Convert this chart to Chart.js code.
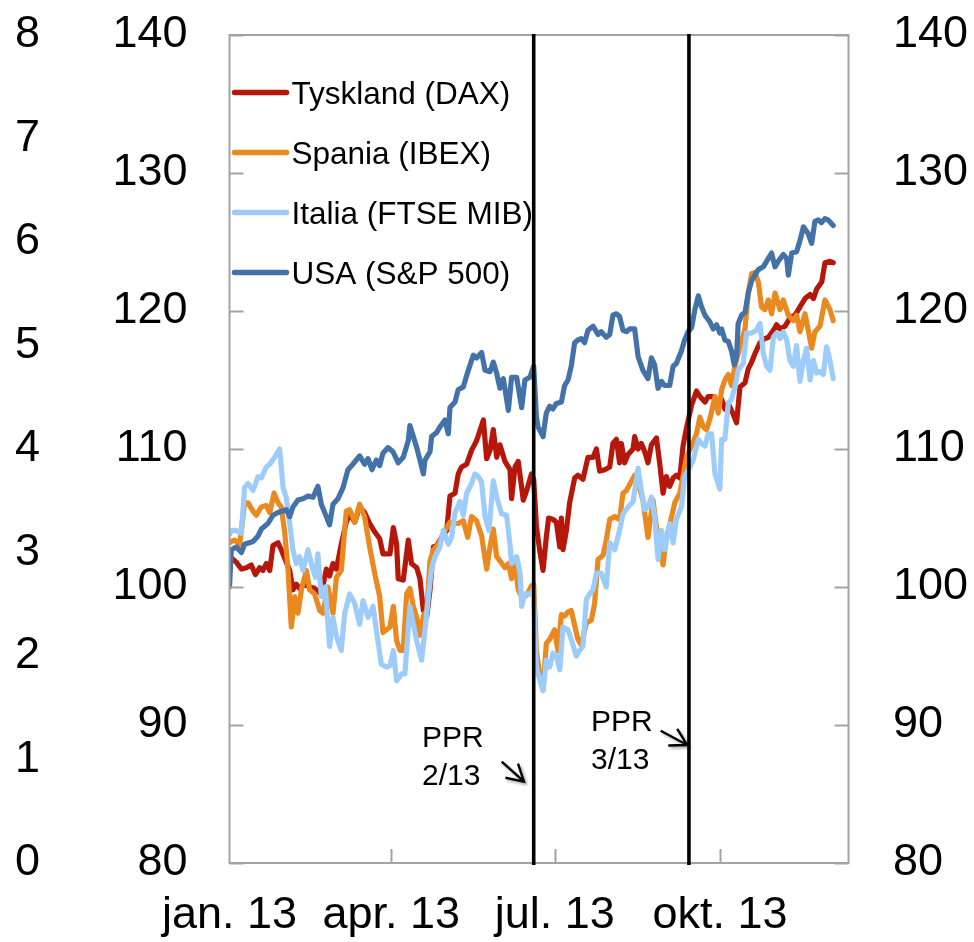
<!DOCTYPE html>
<html><head><meta charset="utf-8">
<script src="https://cdn.jsdelivr.net/npm/chart.js@4.4.0/dist/chart.umd.min.js"></script>
<style>html,body{margin:0;padding:0;background:#fff;}#wrap{width:974px;height:942px;}</style>
</head><body>
<div id="wrap"><canvas id="c" width="974" height="942"></canvas></div>
<script>
// ---------- data ----------
const xTickDays = [0, 90, 181, 273];
const xTickLabels = ['jan. 13', 'apr. 13', 'jul. 13', 'okt. 13'];
const pprDays = [169.3, 255.7];
const pprLabels = [['PPR', '2/13'], ['PPR', '3/13']];
const seriesNames = ['Tyskland (DAX)', 'Spania (IBEX)', 'Italia (FTSE MIB)', 'USA (S&P 500)'];
const seriesColors = ['#B7170B', '#E9891F', '#9DCCFB', '#4372A9'];

const daxDays = [0,1.0,3.8,6.6,9.4,12.1,14.4,16.8,18.6,20.5,22.4,24.2,27.0,28.8,33.5,35.3,37.2,39.0,41.8,44.6,47.4,51.1,53.9,55.7,57.6,59.5,62.2,65.0,66.9,69.7,72.4,75.2,78.0,80.8,83.6,85.4,89.3,91.2,93.0,93.9,96.7,99.5,101.3,104.2,106.0,107.9,109.8,111.6,113.5,115.3,118.1,120.9,122.7,125.5,127.3,129.2,132.0,134.7,137.5,141.3,143.1,145.0,146.8,148.7,150.5,153.3,156.1,157.0,158.9,160.7,163.5,165.4,168.1,169.3,170.8,172.6,174.5,176.3,177.6,180.0,181.9,183.8,184.7,185.6,187.5,189.3,192.1,193.9,196.7,199.5,202.3,204.2,206.0,208.8,211.6,213.4,215.3,217.1,218.1,219.9,221.8,224.6,225.5,227.4,229.2,231.1,232.9,234.8,237.6,239.4,241.3,243.1,245.0,246.9,248.7,250.6,252.4,254.3,257.2,259.9,261.8,264.6,266.4,269.2,271.1,273.9,275.7,277.6,280.4,282.2,284.1,286.9,288.7,290.6,292.4,295.2,298.0,299.9,302.7,304.5,306.4,309.2,312.0,314.8,317.5,320.3,323.1,325.0,326.8,329.6,331.4,334.2,336.0];
const daxValues = [102.0,102.1,101.8,101.3,101.4,101.6,100.9,101.4,101.2,101.7,101.2,103.0,103.2,102.7,101.2,99.8,100.2,99.9,100.2,100.0,99.9,99.5,101.3,100.8,101.7,101.3,103.1,104.7,105.3,104.7,105.8,105.4,104.6,104.0,103.5,102.4,102.4,104.3,103.1,100.6,100.5,103.4,101.7,101.4,100.6,98.3,97.9,99.8,102.9,103.0,103.6,104.1,106.6,106.8,108.2,108.7,108.9,109.9,110.6,112.1,109.3,109.9,111.4,109.4,110.3,109.1,108.5,106.4,108.7,109.1,106.3,107.0,108.2,107.8,104.4,102.7,101.2,103.6,105.0,104.9,104.7,102.9,105.0,102.7,104.1,106.1,107.9,108.1,107.8,109.4,109.4,110.0,108.4,108.5,108.7,110.4,110.7,109.0,110.4,109.0,109.6,110.0,110.9,110.0,110.4,109.8,109.0,110.3,110.8,109.0,106.8,108.0,107.3,107.9,108.1,107.9,110.2,111.5,113.2,114.2,113.8,113.4,113.8,113.8,113.3,113.6,112.9,113.3,112.5,111.9,114.5,114.8,115.8,116.3,116.9,117.7,118.0,118.1,118.6,119.0,118.7,118.9,119.5,119.7,120.3,120.9,121.2,120.9,121.6,122.1,123.5,123.6,123.5];

const ibexDays = [0,1.0,2.9,5.7,8.4,10.3,13.1,14.9,17.7,20.5,22.4,24.8,27.0,28.8,30.7,32.6,34.4,36.3,38.1,40.0,42.8,44.6,47.4,50.2,52.0,54.8,57.6,59.5,62.2,65.0,66.9,69.7,72.4,75.2,78.0,80.8,83.6,85.4,89.3,91.2,93.0,94.9,96.7,98.6,100.4,102.3,104.2,106.0,107.9,109.8,111.6,113.5,116.2,118.1,120.9,122.7,125.5,127.3,130.1,132.6,134.7,137.5,140.3,143.1,145.0,146.8,148.7,150.5,153.3,155.2,157.0,158.9,160.7,162.6,165.4,168.1,169.3,170.8,172.6,174.5,176.3,178.2,180.9,182.8,184.7,186.5,188.4,190.2,193.9,195.8,198.6,201.4,203.2,205.1,207.9,209.7,211.6,214.4,217.1,219.0,220.9,225.5,227.4,230.1,232.9,235.7,238.5,241.3,243.1,245.0,247.8,250.6,252.4,254.3,257.1,259.9,261.8,263.7,265.5,267.4,270.2,272.0,273.9,275.7,277.6,279.4,281.3,284.1,286.9,288.7,290.6,292.4,294.3,296.1,298.0,299.9,301.7,303.6,306.4,308.2,311.0,313.8,315.6,317.5,320.3,322.1,324.0,325.8,328.6,331.4,334.2,336.0];
const ibexValues = [103.2,103.3,103.4,103.1,106.1,106.1,105.5,105.2,105.8,105.9,105.4,106.8,106.1,105.8,104.0,101.2,97.1,99.3,98.1,99.8,101.2,99.8,99.5,98.3,98.1,100.0,98.1,100.7,101.2,105.5,105.6,104.7,106.0,105.1,102.9,101.0,99.3,96.7,97.1,98.6,96.1,95.4,95.4,99.5,99.9,98.6,97.8,96.5,97.9,98.3,101.9,102.7,103.1,103.6,104.3,104.7,104.6,104.6,104.8,103.6,105.1,104.8,103.7,101.3,102.9,104.2,102.2,101.9,101.4,101.7,100.6,101.7,99.8,99.3,99.4,100.1,100.2,95.4,93.7,92.5,95.9,96.2,96.9,95.4,98.0,97.9,98.2,98.3,96.2,95.8,97.4,97.6,98.8,102.0,102.3,103.4,104.9,105.1,104.9,106.8,107.0,108.1,107.5,106.3,103.6,106.3,103.4,101.6,103.6,104.5,106.1,106.8,108.0,109.4,110.2,111.1,112.3,111.6,111.4,112.2,113.8,112.6,114.3,115.0,115.4,114.6,116.0,117.4,118.7,121.3,122.7,122.8,122.1,120.3,120.1,120.8,119.8,121.3,120.1,120.8,119.7,119.3,119.7,118.5,119.8,118.6,117.3,118.5,118.9,120.8,120.1,119.3];

const ftseDays = [0,1.0,3.8,6.6,8.4,10.3,13.1,15.9,17.7,20.5,22.4,25.1,27.9,29.8,31.6,33.5,35.3,37.2,39.0,40.9,43.7,45.5,47.8,49.2,51.1,53.3,55.7,57.6,59.5,62.2,64.1,66.9,69.7,72.4,74.3,77.1,79.9,81.7,84.5,87.3,89.3,91.2,93.0,95.8,97.6,100.4,102.3,104.2,106.9,108.8,110.7,112.5,114.4,117.1,119.0,121.8,123.6,125.5,128.3,130.1,132.0,134.7,136.6,138.5,140.3,142.2,144.4,146.8,148.7,151.4,154.2,156.1,157.0,159.8,161.7,162.6,164.4,167.2,169.1,170.8,172.6,174.5,176.3,178.2,180.0,181.9,183.8,185.6,188.4,190.2,193.0,194.8,196.7,198.6,200.5,202.3,204.2,206.9,209.7,211.6,214.4,217.1,219.0,221.8,224.6,227.4,229.2,231.1,232.9,234.8,236.6,238.5,240.4,242.2,245.0,246.9,248.7,251.5,253.3,256.3,258.1,260.9,262.7,264.6,266.4,268.3,270.2,272.9,273.9,275.7,277.6,279.4,281.3,283.1,285.9,287.8,290.6,293.3,295.2,297.1,298.9,300.8,302.7,304.5,306.4,308.2,310.1,311.9,313.8,315.6,317.5,319.4,321.2,323.1,325.0,326.8,328.6,330.5,332.3,334.2,336.0];
const ftseValues = [103.8,104.1,104.1,103.9,107.2,107.5,107.0,108.0,107.9,108.7,108.9,109.4,110.0,107.2,106.5,104.6,102.7,101.7,102.2,101.2,102.7,101.7,100.7,102.4,99.3,100.0,95.7,97.8,96.4,95.4,98.1,99.5,98.8,97.3,99.0,97.8,98.6,96.9,94.4,94.2,94.3,95.4,93.2,93.7,93.7,98.6,97.3,96.1,94.7,96.9,99.3,101.4,102.2,102.9,104.1,103.1,103.6,105.4,106.2,105.2,106.8,107.5,108.2,108.0,107.6,105.1,104.1,107.7,106.5,105.3,105.2,103.1,101.7,102.2,101.0,98.6,99.5,99.5,99.8,94.2,93.3,92.5,94.7,94.2,95.2,95.0,94.0,97.1,96.9,96.2,95.0,95.4,95.7,99.1,99.5,99.8,101.0,101.0,100.0,103.2,102.7,104.1,105.3,105.8,106.2,108.6,107.0,105.6,105.8,106.5,105.1,102.0,104.1,102.7,104.6,103.2,104.9,105.8,108.0,108.7,109.2,110.7,110.4,110.2,111.1,111.1,108.2,107.1,110.7,110.7,113.3,113.6,114.5,115.7,116.2,118.4,118.4,118.6,119.1,116.9,116.0,115.7,118.1,118.4,118.0,118.5,117.9,116.4,116.0,117.5,114.9,116.4,117.3,115.0,116.4,115.5,115.6,115.4,117.4,116.4,115.1];

const spDays = [0,1.0,3.8,6.6,8.4,13.1,15.9,17.7,21.4,24.2,27.0,31.6,33.5,35.3,38.1,40.9,43.7,46.5,49.2,51.1,53.9,55.7,57.6,60.4,63.2,65.9,68.7,72.4,75.2,77.1,79.3,81.7,83.6,85.4,88.2,91.0,93.9,96.7,99.5,100.4,102.3,104.2,106.0,107.9,108.8,111.6,112.5,115.3,117.1,119.9,121.8,122.7,125.5,127.3,130.1,132.9,135.7,137.5,140.3,142.2,145.0,146.8,148.7,150.5,152.4,155.2,157.0,159.8,162.6,164.4,167.2,169.3,170.8,171.7,174.5,176.3,178.2,180.0,181.9,184.7,186.5,188.4,190.2,192.1,193.9,195.8,197.6,199.5,202.3,205.1,206.9,209.7,211.6,213.4,215.3,217.1,219.0,220.9,222.7,225.5,227.4,230.1,232.9,234.8,236.6,238.5,240.4,242.2,245.0,246.9,248.7,251.5,253.3,255.2,257.2,259.0,260.9,262.7,264.6,267.4,269.2,271.1,272.9,273.9,275.7,277.6,279.4,280.9,282.2,283.1,285.0,286.9,288.7,290.6,292.4,294.3,297.1,298.9,301.7,303.6,305.4,308.2,310.1,311.0,312.9,315.6,317.5,319.4,322.1,324.0,325.8,327.7,329.5,331.4,333.2,336.0];
const spValues = [100.0,102.7,102.9,102.5,103.1,103.3,103.7,104.2,104.6,105.2,105.4,105.6,105.1,105.8,106.3,106.4,106.6,106.5,107.3,106.0,105.1,104.5,106.0,106.4,107.2,108.5,108.9,109.5,108.9,109.3,108.5,109.2,108.8,109.7,110.1,109.8,109.0,109.4,110.6,111.7,110.9,110.1,109.2,108.2,109.2,109.8,110.9,111.2,111.6,112.1,111.1,113.0,113.4,114.3,114.5,115.7,116.8,116.6,117.0,115.7,115.6,116.3,115.5,114.4,115.1,112.8,115.2,115.2,113.0,115.0,115.2,116.0,112.3,111.6,110.9,112.6,113.1,112.9,113.3,113.4,114.6,115.0,116.0,117.7,117.9,118.0,117.7,118.6,118.9,118.3,118.5,118.1,118.3,119.7,119.8,119.6,118.6,118.5,118.7,118.7,116.7,115.7,115.1,116.6,116.1,114.4,114.9,114.6,114.6,116.0,116.2,117.1,117.9,118.5,118.8,120.1,121.1,120.3,119.7,119.2,118.7,119.0,118.4,118.7,117.9,117.8,117.1,116.1,116.7,119.1,119.7,119.9,121.3,122.2,122.6,123.0,123.2,123.6,124.2,123.2,123.6,124.1,123.8,122.6,124.2,124.3,125.1,126.1,125.6,124.9,126.5,126.6,126.4,126.7,126.6,126.2];

const outerTicks = [0, 1, 2, 3, 4, 5, 6, 7, 8];
const indexTicks = [80, 90, 100, 110, 120, 130, 140];

// ---------- chart ----------
const FONT = '"Liberation Sans", Arial, Helvetica, sans-serif';
const toPts = (d, v) => d.map((x, i) => ({ x: x, y: v[i] }));
const seriesDays = [daxDays, ibexDays, ftseDays, spDays];
const seriesVals = [daxValues, ibexValues, ftseValues, spValues];
const drawOrder = [4, 3, 2, 1];

const datasets = seriesNames.map((n, i) => ({
  label: n,
  data: toPts(seriesDays[i], seriesVals[i]),
  borderColor: seriesColors[i],
  backgroundColor: seriesColors[i],
  borderWidth: 5.2,
  pointRadius: 0,
  tension: 0,
  borderJoinStyle: 'round',
  borderCapStyle: 'round',
  fill: false,
  order: drawOrder[i],
  xAxisID: 'x',
  yAxisID: 'y'
}));

const decor = {
  id: 'decor',
  afterDatasetsDraw(chart) {
    const { ctx, chartArea: { left, right, top, bottom }, scales } = chart;
    ctx.save();
    // frame
    ctx.strokeStyle = '#A3A3A3';
    ctx.lineWidth = 2;
    ctx.strokeRect(left, top, right - left, bottom - top);
    // inner tick marks
    ctx.beginPath();
    indexTicks.forEach(v => {
      const py = Math.round(scales.y.getPixelForValue(v)) + 0.5;
      ctx.moveTo(left, py); ctx.lineTo(left + 14, py);
      ctx.moveTo(right, py); ctx.lineTo(right - 14, py);
    });
    xTickDays.slice(1).forEach(d => {
      const px = Math.round(scales.x.getPixelForValue(d)) + 0.5;
      ctx.moveTo(px, bottom); ctx.lineTo(px, bottom - 14);
    });
    ctx.stroke();
    // PPR lines
    ctx.strokeStyle = '#000';
    ctx.lineWidth = 3.6;
    pprDays.forEach(d => {
      const px = scales.x.getPixelForValue(d);
      ctx.beginPath(); ctx.moveTo(px, top - 1); ctx.lineTo(px, bottom + 2); ctx.stroke();
    });
    // legend
    ctx.textBaseline = 'alphabetic';
    ctx.textAlign = 'left';
    ctx.font = '31.5px ' + FONT;
    chart.data.datasets.forEach((ds, i) => {
      const cy = 92.5 + i * 60;
      ctx.strokeStyle = ds.borderColor;
      ctx.lineWidth = 5.5;
      ctx.lineCap = 'round';
      ctx.beginPath(); ctx.moveTo(left + 5, cy); ctx.lineTo(left + 57, cy); ctx.stroke();
      ctx.fillStyle = '#000';
      ctx.fillText(ds.label, left + 62, cy + 11.5);
    });
    // annotations
    ctx.font = '30px ' + FONT;
    ctx.fillStyle = '#000';
    const ann = [
      { dx: -111.7, y1: 747, y2: 785, tip: [-9.7, 781.7], tail: [-32, 761.7] },
      { dx: -98, y1: 731, y2: 769, tip: [-1.7, 745], tail: [-28.3, 730.7] }
    ];
    pprDays.forEach((d, i) => {
      const px = scales.x.getPixelForValue(d);
      const a = ann[i];
      ctx.fillText(pprLabels[i][0], px + a.dx, a.y1);
      ctx.fillText(pprLabels[i][1], px + a.dx, a.y2);
      const tx = px + a.tip[0], ty = a.tip[1];
      const sx = px + a.tail[0], sy = a.tail[1];
      const ang = Math.atan2(ty - sy, tx - sx);
      ctx.save();
      ctx.shadowColor = 'rgba(0,0,0,0.35)';
      ctx.shadowBlur = 3;
      ctx.shadowOffsetX = 2;
      ctx.shadowOffsetY = 2;
      ctx.strokeStyle = '#000';
      ctx.lineWidth = 2.4;
      ctx.lineCap = 'butt';
      ctx.beginPath();
      ctx.moveTo(sx, sy); ctx.lineTo(tx, ty);
      ctx.moveTo(tx - 19 * Math.cos(ang - 0.52), ty - 19 * Math.sin(ang - 0.52));
      ctx.lineTo(tx, ty);
      ctx.lineTo(tx - 19 * Math.cos(ang + 0.52), ty - 19 * Math.sin(ang + 0.52));
      ctx.stroke();
      ctx.restore();
    });
    ctx.restore();
  }
};

const tickFont = { family: FONT, size: 45 };
const noPad = s => { s.paddingTop = 0; s.paddingBottom = 0; s.paddingLeft = 0; s.paddingRight = 0; };

new Chart(document.getElementById('c'), {
  type: 'line',
  data: { datasets: datasets },
  options: {
    responsive: false,
    animation: false,
    devicePixelRatio: 1,
    layout: { padding: { top: 35, bottom: 0, left: 0, right: 0 } },
    plugins: { legend: { display: false }, tooltip: { enabled: false } },
    scales: {
      x: {
        type: 'linear', position: 'bottom', min: 0, max: 344.5,
        afterBuildTicks: s => { s.ticks = xTickDays.map(v => ({ value: v })); },
        ticks: {
          callback: v => { const k = xTickDays.indexOf(v); return k >= 0 ? xTickLabels[k] : ''; },
          font: tickFont, color: '#000', padding: 26, maxRotation: 0, autoSkip: false
        },
        grid: { display: false, drawTicks: false },
        border: { display: false },
        afterFit: s => { s.height = 79; noPad(s); }
      },
      yOuter: {
        type: 'linear', position: 'left', min: 0, max: 8, weight: 2,
        afterBuildTicks: s => { s.ticks = outerTicks.map(v => ({ value: v })); },
        ticks: { font: tickFont, color: '#000', padding: 20 },
        grid: { display: false, drawTicks: false },
        border: { display: false },
        afterFit: s => { s.width = 60; noPad(s); }
      },
      y: {
        type: 'linear', position: 'left', min: 80, max: 140, weight: 1,
        afterBuildTicks: s => { s.ticks = indexTicks.map(v => ({ value: v })); },
        ticks: { font: tickFont, color: '#000', padding: 42 },
        grid: { display: false, drawTicks: false },
        border: { display: false },
        afterFit: s => { s.width = 169.5; noPad(s); }
      },
      yRight: {
        type: 'linear', position: 'right', min: 80, max: 140,
        afterBuildTicks: s => { s.ticks = indexTicks.map(v => ({ value: v })); },
        ticks: { font: tickFont, color: '#000', padding: 44.5 },
        grid: { display: false, drawTicks: false },
        border: { display: false },
        afterFit: s => { s.width = 125.5; noPad(s); }
      }
    }
  },
  plugins: [decor]
});
</script>
</body></html>
